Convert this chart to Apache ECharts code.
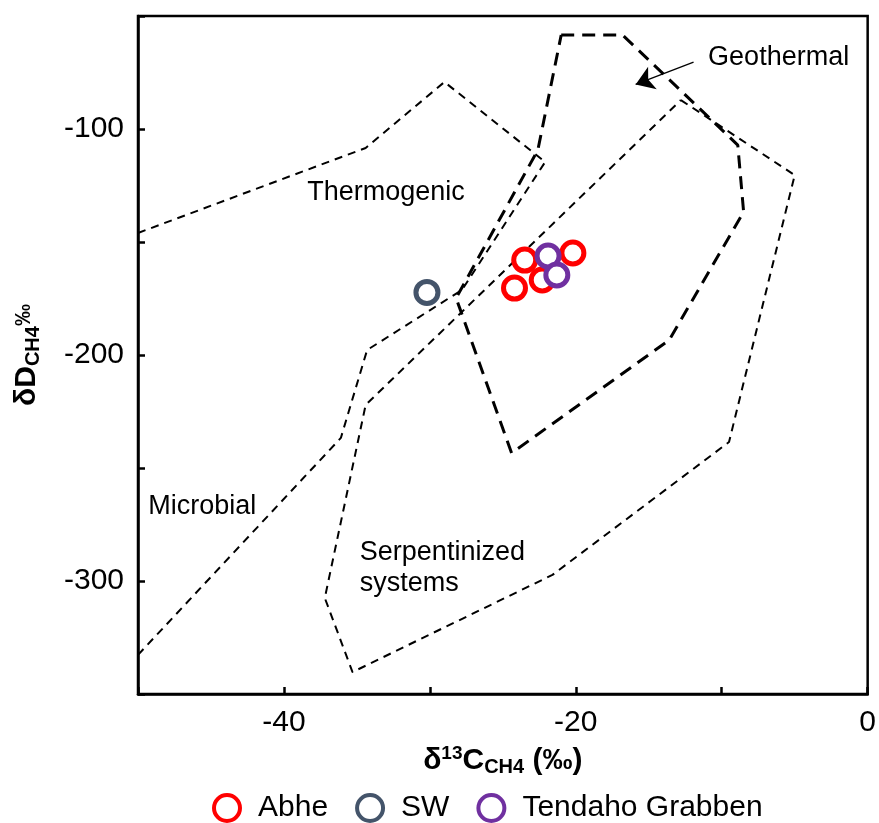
<!DOCTYPE html>
<html><head><meta charset="utf-8">
<script src="https://cdn.jsdelivr.net/npm/echarts@6/dist/echarts.min.js"></script>
<style>html,body{margin:0;padding:0;background:#fff}#c{width:879px;height:823px}</style>
</head><body><div id="c"></div>
<script>
// ---- data ----
const abheX = [-23.5, -20.2, -24.2, -22.3];
const abheY = [-158.0, -154.9, -170.4, -166.8];
const swX = [-30.2];
const swY = [-172.3];
const tendahoX = [-21.9, -21.3];
const tendahoY = [-156.2, -164.6];

// field boundaries
const thermoMicrobialX = [-50, -34.4, -29.0, -22.1, -27.8, -34.3, -36.1, -50];
const thermoMicrobialY = [-146.0, -108.4, -79.2, -114.6, -171.2, -197.8, -236.7, -332.7];
const serpX = [-12.8, -5.0, -9.5, -21.6, -35.3, -37.2, -34.4, -12.8];
const serpY = [-87.2, -120.4, -238.5, -297.3, -340.3, -307.5, -222.1, -87.2];
const geoX = [-21.0, -16.8, -8.9, -8.5, -13.6, -24.4, -28.2, -22.6, -21.0];
const geoY = [-58.4, -58.4, -107.1, -136.7, -193.4, -243.4, -174.8, -109.3, -58.4];

// annotations
const regionNames = ['Thermogenic', 'Geothermal', 'Microbial', 'Serpentinized\nsystems'];
const regionX = [-33.0, -6.1, -45.6, -34.8];
const regionY = [-128.3, -68.6, -267.0, -294.2];
const regionAlign = ['center', 'center', 'center', 'left'];
const arrowFrom = [-11.93, -70.4];
const arrowTo = [-15.9, -80.3];

const xLabelTicks = [-40, -20, 0];
const yLabelTicks = [-100, -200, -300];

const zip = (xs, ys) => xs.map((x, i) => [x, ys[i]]);
const FONT = '"Liberation Sans", Arial, sans-serif';

const chart = echarts.init(document.getElementById('c'));
const dashed = (name, xs, ys, w, dash) => ({
  name, type: 'line', data: zip(xs, ys), showSymbol: false, symbol: 'none', silent: true,
  lineStyle: { color: '#000', width: w, type: dash }, z: 2, animation: false
});
const pts = (name, xs, ys, color) => ({
  name, type: 'scatter', data: zip(xs, ys), symbol: 'circle', symbolSize: 22,
  itemStyle: { color: '#fff', borderColor: color, borderWidth: 5, opacity: 1 }, z: 5
});

chart.setOption({
  animation: false,
  grid: { left: 138, right: 6, top: 16, bottom: 129, show: true, borderColor: '#000', borderWidth: 2.5, backgroundColor: 'transparent' },
  xAxis: {
    type: 'value', min: -50, max: 0, interval: 10,
    splitLine: { show: false },
    axisLine: { onZero: false, lineStyle: { color: '#000', width: 2.5 } },
    axisTick: { inside: true, length: 7, lineStyle: { color: '#000', width: 2.5 } },
    axisLabel: { fontSize: 30, color: '#000', fontFamily: FONT, margin: 14,
      formatter: v => xLabelTicks.includes(v) ? String(v) : '' },
    name: '{n|δ}{sup|13}{n|C}{sub|CH4}{n| (‰)}', nameLocation: 'middle', nameGap: 50,
    nameMoveOverlap: false,
    nameTextStyle: { rich: {
      n: { fontSize: 30, fontWeight: 'bold', fontFamily: FONT, color: '#000' },
      sup: { fontSize: 19, fontWeight: 'bold', fontFamily: FONT, color: '#000', padding: [0, 0, 13, 0] },
      sub: { fontSize: 20, fontWeight: 'bold', fontFamily: FONT, color: '#000', padding: [13, 0, 0, 0] }
    } }
  },
  yAxis: {
    type: 'value', min: -350, max: -50, interval: 50,
    splitLine: { show: false },
    axisLine: { onZero: false, lineStyle: { color: '#000', width: 2.5 } },
    axisTick: { inside: true, length: 7, lineStyle: { color: '#000', width: 2.5 } },
    axisLabel: { fontSize: 30, color: '#000', fontFamily: FONT, margin: 14,
      formatter: v => yLabelTicks.includes(v) ? String(v) : '' },
    name: '{n|δD}{sub|CH4}{sup|‰}', nameLocation: 'middle', nameGap: 95, nameRotate: 90,
    nameTextStyle: { rich: {
      n: { fontSize: 30, fontWeight: 'bold', fontFamily: FONT, color: '#000' },
      sup: { fontSize: 22, fontWeight: 'bold', fontFamily: FONT, color: '#000', padding: [0, 0, 6, 0] },
      sub: { fontSize: 20, fontWeight: 'bold', fontFamily: FONT, color: '#000', padding: [13, 0, 0, 0] }
    } }
  },
  legend: {
    data: ['Abhe', 'SW', 'Tendaho Grabben'], top: 788, left: 207,
    itemWidth: 26, itemHeight: 26, itemGap: 27,
    itemStyle: { borderWidth: 4 },
    textStyle: { fontSize: 30, color: '#000', fontFamily: FONT, padding: [0, 0, 0, 13] }
  },
  series: [
    dashed('thermo', thermoMicrobialX, thermoMicrobialY, 2, [8, 6]),
    dashed('serp', serpX, serpY, 2, [8, 6]),
    Object.assign(dashed('geo', geoX, geoY, 3, [13, 8]), {
      markLine: {
        silent: true, symbol: ['none', 'arrow'], symbolSize: 18,
        lineStyle: { color: '#000', width: 1.3, type: 'solid' }, label: { show: false },
        itemStyle: { color: '#000' },
        data: [[{ coord: arrowFrom }, { coord: arrowTo }]]
      }
    }),
    {
      name: 'labels', type: 'scatter', symbolSize: 0, silent: true, z: 3,
      itemStyle: { opacity: 1 },
      data: regionNames.map((n, i) => ({ value: [regionX[i], regionY[i]], name: n,
        label: { align: regionAlign[i] } })),
      label: { show: true, position: 'inside', formatter: p => p.name, fontSize: 27,
        color: '#000', opacity: 1, textBorderWidth: 0, fontFamily: FONT, lineHeight: 31 }
    },
    pts('Abhe', abheX, abheY, '#FF0000'),
    pts('SW', swX, swY, '#44546A'),
    pts('Tendaho Grabben', tendahoX, tendahoY, '#7030A0')
  ]
});
</script></body></html>
